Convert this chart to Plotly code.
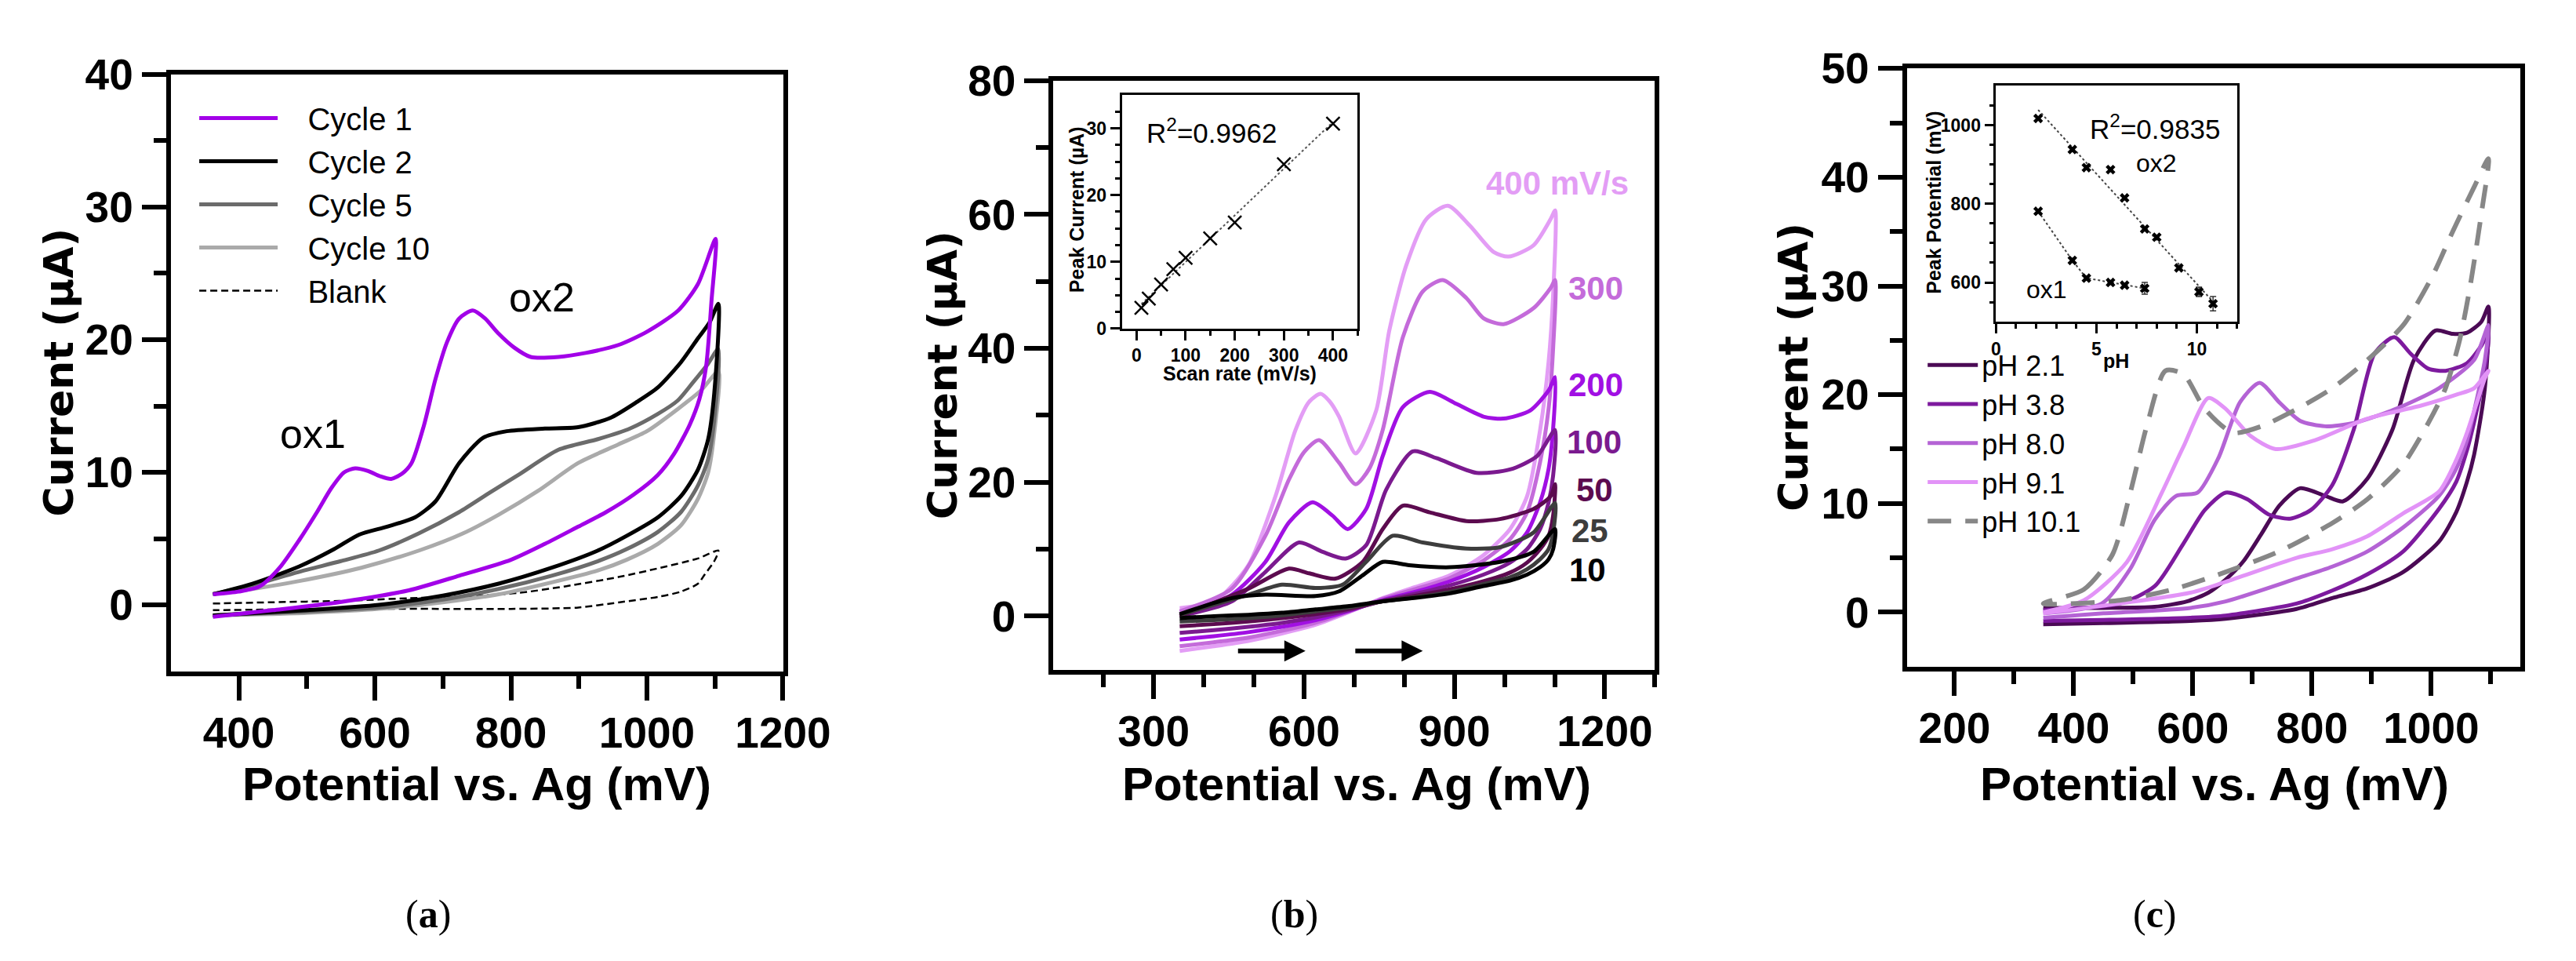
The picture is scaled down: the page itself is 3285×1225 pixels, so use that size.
import numpy as np
import plotly.graph_objects as go

W, H = 3285, 1225

# ---------------- panel (a): repeated cycles ----------------
a_c1_fwd_x = [362, 400, 431, 460, 489, 515, 536, 555, 571, 590, 608, 624, 640, 654, 672, 689, 706, 724, 744, 762, 781, 805, 829, 870, 910, 958, 1000, 1046, 1075, 1101]
a_c1_fwd_y = [0.8, 1.0, 1.4, 2.8, 4.9, 7.0, 8.8, 10.0, 10.3, 10.1, 9.7, 9.5, 9.9, 10.7, 13.5, 17.0, 19.8, 21.6, 22.2, 21.6, 20.5, 19.4, 18.7, 18.7, 19.0, 19.6, 20.6, 22.2, 24.2, 27.6]
a_c1_rev_x = [1101, 1095, 1087, 1077, 1063, 1040, 1016, 980, 940, 899, 850, 800, 724, 650, 547, 450, 362]
a_c1_rev_y = [27.6, 23.0, 18.0, 15.5, 13.6, 11.4, 9.8, 8.3, 7.0, 5.9, 4.6, 3.4, 2.2, 1.1, 0.2, -0.4, -0.9]

a_c2_fwd_x = [362, 420, 489, 540, 577, 618, 659, 689, 724, 759, 794, 850, 899, 946, 985, 1016, 1050, 1075, 1092, 1105]
a_c2_fwd_y = [0.8, 1.6, 2.9, 4.2, 5.3, 5.9, 6.6, 7.8, 10.7, 12.6, 13.1, 13.3, 13.4, 14.1, 15.3, 16.4, 18.3, 20.1, 21.3, 22.7]
a_c5_fwd_x = [362, 420, 489, 550, 606, 665, 724, 770, 811, 870, 928, 975, 1016, 1045, 1068, 1090, 1105]
a_c5_fwd_y = [0.8, 1.5, 2.5, 3.3, 4.1, 5.4, 7.0, 8.5, 9.8, 11.7, 12.5, 13.3, 14.4, 15.4, 16.8, 18.2, 19.3]
a_c10_fwd_x = [362, 420, 489, 580, 665, 730, 782, 840, 899, 958, 1000, 1046, 1080, 1105]
a_c10_fwd_y = [0.8, 1.2, 1.8, 2.8, 4.1, 5.4, 6.8, 8.6, 10.7, 12.1, 13.1, 14.8, 16.2, 17.6]

a_rev_x = [1105, 1099, 1090, 1075, 1050, 1016, 970, 928, 860, 782, 700, 606, 500, 362]
a_c2_rev_y = [22.7, 16.0, 12.5, 10.2, 8.2, 6.6, 5.2, 4.1, 2.8, 1.6, 0.7, 0.0, -0.4, -0.8]
a_c5_rev_y = [19.3, 14.0, 11.0, 9.0, 7.0, 5.5, 4.2, 3.3, 2.2, 1.2, 0.4, -0.2, -0.5, -0.8]
a_c10_rev_y = [17.6, 13.0, 10.0, 8.0, 6.0, 4.6, 3.4, 2.6, 1.7, 0.8, 0.2, -0.3, -0.6, -0.8]

a_blank_fwd_x = [362, 450, 547, 650, 750, 811, 880, 958, 1020, 1075, 1105]
a_blank_fwd_y = [0.1, 0.2, 0.3, 0.5, 0.7, 0.9, 1.4, 2.1, 2.8, 3.5, 4.1]
a_blank_rev_x = [1105, 1099, 1085, 1075, 1050, 1016, 960, 899, 800, 700, 550, 362]
a_blank_rev_y = [4.1, 3.3, 2.3, 1.6, 1.0, 0.6, 0.2, -0.2, -0.3, -0.3, -0.3, -0.4]

# ---------------- panel (b): scan rates ----------------
b_rev_x = [1101, 1097, 1088, 1071, 1045, 1011, 958, 891, 820, 757, 690, 623, 556, 489, 420, 352]

b_400_fwd_x = [352, 422, 489, 543, 583, 610, 633, 652, 670, 703, 744, 770, 804, 844, 887, 931, 978, 1008, 1058, 1092, 1101]
b_400_fwd_y = [1.2, 2.2, 7.6, 17.9, 27.8, 32.0, 33.2, 32.0, 29.8, 24.3, 30.7, 42.6, 52.4, 59.3, 61.3, 58.3, 54.4, 53.7, 55.4, 59.3, 60.6]
b_400_rev_y = [60.6, 48.0, 38.0, 27.8, 17.9, 13.0, 9.1, 6.1, 4.3, 2.7, 0.6, -1.3, -2.6, -3.7, -4.5, -5.2]

b_300_fwd_x = [352, 456, 523, 570, 600, 630, 670, 703, 730, 757, 797, 837, 877, 924, 958, 998, 1058, 1092, 1101]
b_300_fwd_y = [0.7, 4.1, 12.0, 20.4, 24.5, 26.3, 22.9, 19.7, 22.0, 27.8, 41.6, 48.5, 50.2, 47.5, 44.5, 43.6, 46.0, 49.0, 50.2]
b_300_rev_y = [50.2, 40.0, 31.0, 23.0, 15.5, 11.5, 8.3, 5.7, 4.0, 2.6, 0.7, -1.0, -2.2, -3.2, -3.9, -4.5]

b_200_fwd_x = [352, 456, 523, 570, 617, 657, 687, 724, 757, 797, 851, 904, 958, 998, 1051, 1088, 1101]
b_200_fwd_y = [0.2, 3.2, 8.1, 14.0, 17.0, 15.0, 13.0, 16.0, 23.9, 31.2, 33.5, 31.7, 29.8, 29.5, 30.7, 33.7, 35.7]
b_200_rev_y = [35.7, 28.0, 22.0, 17.0, 12.5, 9.7, 7.3, 5.2, 3.6, 2.4, 0.8, -0.6, -1.6, -2.4, -3.0, -3.5]

b_100_fwd_x = [352, 456, 523, 590, 637, 683, 724, 764, 817, 864, 944, 1011, 1065, 1101]
b_100_fwd_y = [0.0, 2.2, 6.6, 11.0, 9.6, 8.6, 10.6, 18.9, 24.6, 23.6, 21.4, 21.9, 23.9, 27.8]
b_100_rev_y = [27.8, 21.0, 17.0, 13.0, 10.0, 8.0, 6.2, 4.6, 3.3, 2.3, 0.9, -0.2, -1.0, -1.6, -2.1, -2.5]

b_50_fwd_x = [352, 489, 570, 610, 663, 717, 757, 797, 851, 924, 991, 1058, 1092, 1101]
b_50_fwd_y = [0.0, 4.1, 7.1, 6.4, 5.6, 8.1, 13.0, 16.5, 15.5, 14.2, 14.5, 16.0, 17.9, 19.7]
b_50_rev_y = [19.7, 15.0, 12.0, 10.0, 8.0, 6.5, 5.2, 4.0, 3.0, 2.2, 1.1, 0.3, -0.3, -0.8, -1.2, -1.5]

b_25_fwd_x = [352, 489, 556, 623, 677, 724, 777, 837, 924, 991, 1058, 1101]
b_25_fwd_y = [0.2, 3.2, 4.7, 4.2, 4.7, 8.1, 12.0, 11.0, 10.1, 10.3, 12.5, 16.9]
b_25_rev_y = [16.9, 12.5, 10.0, 8.5, 7.0, 5.8, 4.8, 3.6, 2.8, 2.2, 1.3, 0.7, 0.1, -0.3, -0.6, -0.8]

b_10_fwd_x = [352, 456, 523, 623, 670, 717, 757, 810, 891, 991, 1058, 1101]
b_10_fwd_y = [0.3, 2.7, 3.2, 3.0, 3.7, 6.1, 8.1, 7.6, 7.3, 8.1, 9.6, 13.0]
b_10_rev_y = [13.0, 10.0, 8.5, 7.3, 6.2, 5.3, 4.5, 3.4, 2.7, 2.2, 1.5, 1.0, 0.5, 0.2, 0.0, -0.3]

# inset (b): peak current vs scan rate
scan_rate = [10, 25, 50, 75, 100, 150, 200, 300, 400]
peak_current = [3.1, 4.5, 6.6, 8.9, 10.6, 13.5, 15.9, 24.6, 30.7]

# ---------------- panel (c): pH ----------------
c_rev_x = [1096, 1090, 1072, 1060, 1042, 1013, 953, 893, 834, 774, 655, 596, 450, 349]

c_21_fwd_x = [349, 450, 536, 590, 626, 655, 685, 715, 745, 780, 822, 852, 893, 935, 971, 1007, 1036, 1060, 1084, 1096]
c_21_fwd_y = [0.4, 0.4, 0.5, 1.0, 1.8, 3.0, 4.7, 7.2, 9.8, 11.4, 10.7, 10.2, 12.3, 16.8, 23.2, 25.9, 25.6, 25.7, 26.7, 28.1]
c_21_rev_y = [28.1, 20.6, 14.5, 12.0, 9.2, 6.5, 3.7, 2.2, 1.3, 0.3, -0.6, -0.8, -1.0, -1.1]

c_38_fwd_x = [349, 477, 536, 584, 620, 655, 691, 727, 763, 798, 834, 870, 905, 938, 965, 995, 1024, 1060, 1084, 1096]
c_38_fwd_y = [0.2, 0.8, 2.4, 6.3, 9.4, 11.0, 10.4, 9.0, 8.6, 9.4, 11.7, 16.8, 23.8, 25.3, 23.8, 22.4, 22.2, 22.9, 24.5, 25.7]
c_38_rev_y = [25.7, 22.2, 17.5, 14.9, 12.0, 9.5, 5.6, 3.5, 2.0, 0.8, -0.3, -0.5, -0.7, -0.8]

c_80_fwd_x = [349, 447, 495, 536, 572, 608, 643, 679, 712, 745, 780, 822, 870, 941, 1013, 1072, 1096]
c_80_fwd_y = [-0.1, 0.8, 4.0, 8.5, 10.7, 11.0, 14.2, 19.3, 21.1, 19.3, 17.6, 17.1, 17.4, 18.7, 20.6, 23.2, 26.4]
c_80_rev_y = [26.4, 23.2, 18.5, 15.8, 13.2, 10.7, 7.8, 5.6, 4.2, 3.1, 1.0, 0.4, -0.1, -0.5]

c_91_fwd_x = [349, 417, 489, 548, 584, 626, 655, 697, 739, 804, 893, 983, 1042, 1072, 1096]
c_91_fwd_y = [0.0, 1.1, 4.6, 11.0, 15.2, 19.7, 18.7, 16.2, 15.0, 15.8, 17.8, 19.0, 20.0, 20.6, 22.2]
c_91_rev_y = [22.2, 21.5, 18.5, 16.5, 14.0, 11.1, 9.1, 7.0, 5.8, 5.0, 2.8, 1.8, 0.6, -0.1]

c_101_fwd_x = [349, 417, 465, 495, 524, 554, 584, 620, 667, 715, 775, 834, 893, 953, 1001, 1036, 1072, 1096]
c_101_fwd_y = [0.8, 2.1, 5.3, 11.0, 17.4, 22.2, 21.9, 18.7, 16.5, 17.1, 18.7, 20.6, 23.2, 26.4, 30.8, 35.0, 39.1, 41.7]
c_101_rev_x = [1096, 1084, 1066, 1048, 1024, 995, 953, 893, 834, 745, 655, 566, 477, 349]
c_101_rev_y = [41.7, 36.6, 30.2, 25.1, 20.6, 17.4, 13.6, 10.4, 8.2, 5.6, 3.7, 2.1, 1.1, 0.8]

# inset (c): peak potential vs pH
ph_ox2 = [2.1, 3.8, 4.5, 5.7, 6.4, 7.4, 8.0, 9.1, 10.1, 10.8]
pot_ox2 = [1017, 938, 892, 887, 815, 736, 715, 637, 576, 546]
err_ox2 = [4, 5, 5, 5, 5, 5, 5, 5, 12, 18]
ph_ox1 = [2.1, 3.8, 4.5, 5.7, 6.4, 7.4]
pot_ox1 = [781, 656, 611, 600, 593, 585]
err_ox1 = [4, 5, 5, 5, 5, 15]

# tick values
a_xticks = [400, 600, 800, 1000, 1200]
a_xminor = [500, 700, 900, 1100]
a_yticks = [0, 10, 20, 30, 40]
a_yminor = [5, 15, 25, 35]
b_xticks = [300, 600, 900, 1200]
b_xminor = [200, 400, 500, 700, 800, 1000, 1100, 1300]
b_yticks = [0, 20, 40, 60, 80]
b_yminor = [10, 30, 50, 70]
c_xticks = [200, 400, 600, 800, 1000]
c_xminor = [300, 500, 700, 900, 1100]
c_yticks = [0, 10, 20, 30, 40, 50]
c_yminor = [5, 15, 25, 35, 45]
ib_xticks = [0, 100, 200, 300, 400]
ib_xminor = [50, 150, 250, 350, 450]
ib_yticks = [0, 10, 20, 30]
ib_yminor = [2.5, 5, 7.5, 12.5, 15, 17.5, 22.5, 25, 27.5, 32.5]
ic_xticks = [0, 5, 10]
ic_xminor = [1, 2, 3, 4, 6, 7, 8, 9, 11, 12]
ic_yticks = [600, 800, 1000]
ic_yminor = [550, 650, 700, 750, 850, 900, 950, 1050]

SANS = 'Liberation Sans, Arial, sans-serif'
NB = '\u00a0'


def px(x):
    return x / W


def py(y):
    return 1 - y / H


def main_axis(rng, ticks, minor, domain, anchor, standoff=0):
    return dict(
        range=rng, domain=domain, anchor=anchor,
        showline=True, linewidth=6, linecolor='black', mirror=True,
        showgrid=False, zeroline=False,
        tickmode='array', tickvals=ticks, ticks='outside', ticklen=31, tickwidth=6, tickcolor='black',
        ticklabelstandoff=standoff,
        minor=dict(tickmode='array', tickvals=minor, ticks='outside', ticklen=16, tickwidth=6, tickcolor='black'),
        tickfont=dict(family=SANS, size=55, color='black', weight='bold'),
    )


def inset_axis(rng, ticks, minor, domain, anchor):
    return dict(
        range=rng, domain=domain, anchor=anchor,
        showline=True, linewidth=2.5, linecolor='black', mirror=True,
        showgrid=False, zeroline=False,
        tickmode='array', tickvals=ticks, ticks='outside', ticklen=12, tickwidth=2.5, tickcolor='black',
        minor=dict(tickmode='array', tickvals=minor, ticks='outside', ticklen=6, tickwidth=2.5, tickcolor='black'),
        tickfont=dict(family=SANS, size=23, color='black', weight='bold'),
    )


def loop(fx, fy, rx, ry):
    return list(fx) + list(rx[1:]), list(fy) + list(ry[1:])


fig = go.Figure()

# panel (a)
a_traces = [
    ('Cycle 1', a_c1_fwd_x, a_c1_fwd_y, a_c1_rev_x, a_c1_rev_y, '#A200E8', 5, 'solid'),
    ('Cycle 2', a_c2_fwd_x, a_c2_fwd_y, a_rev_x, a_c2_rev_y, '#000000', 5, 'solid'),
    ('Cycle 5', a_c5_fwd_x, a_c5_fwd_y, a_rev_x, a_c5_rev_y, '#6B6B6B', 5, 'solid'),
    ('Cycle 10', a_c10_fwd_x, a_c10_fwd_y, a_rev_x, a_c10_rev_y, '#AAAAAA', 5, 'solid'),
    ('Blank', a_blank_fwd_x, a_blank_fwd_y, a_blank_rev_x, a_blank_rev_y, '#000000', 2.5, '9px,5px'),
]
a_names = [t[0] for t in a_traces]
for name, fx, fy, rx, ry, col, lw, dash in reversed(a_traces):
    x, y = loop(fx, fy, rx, ry)
    fig.add_trace(go.Scatter(x=x, y=y, mode='lines', name=NB * 3 + name, legend='legend',
                             legendrank=a_names.index(name),
                             line=dict(color=col, width=lw, dash=dash, shape='spline', smoothing=0.7),
                             xaxis='x', yaxis='y'))

# panel (b)
b_traces = [
    ('10', b_10_fwd_x, b_10_fwd_y, b_10_rev_y, '#000000'),
    ('25', b_25_fwd_x, b_25_fwd_y, b_25_rev_y, '#3D3D3D'),
    ('50', b_50_fwd_x, b_50_fwd_y, b_50_rev_y, '#5C0B4F'),
    ('100', b_100_fwd_x, b_100_fwd_y, b_100_rev_y, '#7B1A8F'),
    ('200', b_200_fwd_x, b_200_fwd_y, b_200_rev_y, '#A110E3'),
    ('300', b_300_fwd_x, b_300_fwd_y, b_300_rev_y, '#C46BDA'),
    ('400 mV/s', b_400_fwd_x, b_400_fwd_y, b_400_rev_y, '#E39DF5'),
]
for name, fx, fy, ry, col in reversed(b_traces):
    x, y = loop(fx, fy, b_rev_x, ry)
    fig.add_trace(go.Scatter(x=x, y=y, mode='lines', name=name, showlegend=False,
                             line=dict(color=col, width=5, shape='spline', smoothing=0.7),
                             xaxis='x2', yaxis='y2'))

# inset (b)
fit_b = np.polyfit(scan_rate, peak_current, 1)
fit_bx = [scan_rate[0], scan_rate[-1]]
fig.add_trace(go.Scatter(x=fit_bx, y=np.polyval(fit_b, fit_bx), mode='lines', showlegend=False,
                         line=dict(color='#555555', width=2, dash='dot'), xaxis='x4', yaxis='y4'))
fig.add_trace(go.Scatter(x=scan_rate, y=peak_current, mode='markers', showlegend=False,
                         marker=dict(symbol='x-thin', size=17, line=dict(color='black', width=2.5)),
                         xaxis='x4', yaxis='y4'))

# panel (c)
c_traces = [
    ('pH 2.1', c_21_fwd_x, c_21_fwd_y, c_rev_x, c_21_rev_y, '#4B0A55', 'solid'),
    ('pH 3.8', c_38_fwd_x, c_38_fwd_y, c_rev_x, c_38_rev_y, '#7D1A9E', 'solid'),
    ('pH 8.0', c_80_fwd_x, c_80_fwd_y, c_rev_x, c_80_rev_y, '#B463D5', 'solid'),
    ('pH 9.1', c_91_fwd_x, c_91_fwd_y, c_rev_x, c_91_rev_y, '#E293F7', 'solid'),
    ('pH 10.1', c_101_fwd_x, c_101_fwd_y, c_101_rev_x, c_101_rev_y, '#878787', '30px,18px'),
]
for i, (name, fx, fy, rx, ry, col, dash) in enumerate(c_traces):
    x, y = loop(fx, fy, rx, ry)
    fig.add_trace(go.Scatter(x=x, y=y, mode='lines', name=name, legend='legend2', legendrank=i,
                             line=dict(color=col, width=5 if dash == 'solid' else 6, dash=dash, shape='spline', smoothing=0.7),
                             xaxis='x3', yaxis='y3'))

# inset (c)
fit_c = np.polyfit(ph_ox2, pot_ox2, 1)
fit_cx = [ph_ox2[0], ph_ox2[-1]]
fig.add_trace(go.Scatter(x=fit_cx, y=np.polyval(fit_c, fit_cx), mode='lines', showlegend=False,
                         line=dict(color='#444444', width=2, dash='dot'), xaxis='x5', yaxis='y5'))
fig.add_trace(go.Scatter(x=ph_ox1, y=pot_ox1, mode='lines', showlegend=False,
                         line=dict(color='#444444', width=2, dash='dot'), xaxis='x5', yaxis='y5'))
for xs, ys, es in [(ph_ox2, pot_ox2, err_ox2), (ph_ox1, pot_ox1, err_ox1)]:
    fig.add_trace(go.Scatter(x=xs, y=ys, mode='markers', showlegend=False,
                             error_y=dict(type='data', array=es, color='#333333', thickness=1.5, width=4),
                             marker=dict(symbol='x', size=11, color='black'),
                             xaxis='x5', yaxis='y5'))

# layout / axes
dom_a = [px(208), px(1005)]
dom_b = [px(1357), px(2140)]
dom_c = [px(2468), px(3267)]
fig.update_layout(
    width=W, height=H, margin=dict(l=0, r=0, t=0, b=0),
    paper_bgcolor='white', plot_bgcolor='white',
    xaxis=main_axis([300, 1200], a_xticks, a_xminor, dom_a, 'y', -6),
    yaxis=main_axis([-5, 40], a_yticks, a_yminor, [py(847), py(58)], 'x'),
    xaxis2=main_axis([100, 1300], b_xticks, b_xminor, dom_b, 'y2', -6),
    yaxis2=main_axis([-8, 80], b_yticks, b_yminor, [py(845), py(66)], 'x2'),
    xaxis3=main_axis([120, 1150], c_xticks, c_xminor, dom_c, 'y3', -6),
    yaxis3=main_axis([-5, 50], c_yticks, c_yminor, [py(841), py(50)], 'x3'),
    xaxis4=inset_axis([-30, 450], ib_xticks, ib_xminor, [px(1446), px(1753)], 'y4'),
    yaxis4=inset_axis([0, 35], ib_yticks, ib_yminor, [py(394), py(85)], 'x4'),
    xaxis5=inset_axis([0, 12], ic_xticks, ic_xminor, [px(2584), px(2898)], 'y5'),
    yaxis5=inset_axis([500, 1100], ic_yticks, ic_yminor, [py(385), py(73)], 'x5'),
    legend=dict(x=px(240), y=py(82), xanchor='left', yanchor='top', bgcolor='rgba(0,0,0,0)',
                font=dict(family=SANS, size=40, color='black'), itemwidth=100, traceorder='normal'),
    legend2=dict(x=px(2490), y=py(411), xanchor='left', yanchor='top', bgcolor='rgba(0,0,0,0)',
                 font=dict(family=SANS, size=36, color='black'), itemwidth=64, traceorder='normal'),
)

ann = []


def text(x, y, s, size, xref='paper', yref='paper', bold=False, color='black', angle=0, family=SANS):
    ann.append(dict(x=x, y=y, xref=xref, yref=yref, text=s, showarrow=False, textangle=angle,
                    xanchor='center', yanchor='middle',
                    font=dict(family=family, size=size, color=color, weight='bold' if bold else 'normal')))


# axis titles
for cx in [606, 1752, 2868]:
    text(px(cx), py(996), 'Potential vs. Ag (mV)', 60, bold=True)
for cx, cy in [(62, 452), (1212, 455), (2320, 445)]:
    text(px(cx), py(cy), 'Current (µA)', 52, bold=True, angle=-90, family='DejaVu Sans, sans-serif')
# panel letters
for cx, s in [(543, 'a'), (1671, 'b'), (2791, 'c')]:
    text(px(cx), py(1168), '(<b>%s</b>)' % s, 50, family='Liberation Serif, serif')

# panel (a) peak labels
text(509, 12.9, 'ox1', 52, 'x', 'y')
text(846, 23.2, 'ox2', 52, 'x', 'y')

# panel (b) scan rate labels
for lx, ly, s, col in [(1105, 64.7, '400 mV/s', '#E39DF5'), (1182, 49.0, '300', '#C46BDA'),
                       (1182, 34.5, '200', '#A110E3'), (1179, 26.0, '100', '#7B1A8F'),
                       (1179, 18.8, '50', '#5C0B4F'), (1171, 12.8, '25', '#3D3D3D'),
                       (1165, 6.9, '10', '#000000')]:
    text(lx, ly, s, 42, 'x2', 'y2', bold=True, color=col)
for x0, x1 in [(466, 603), (700, 837)]:
    ann.append(dict(x=x1, y=-5.2, ax=x0, ay=-5.2, xref='x2', yref='y2', axref='x2', ayref='y2',
                    showarrow=True, arrowhead=2, arrowsize=0.9, arrowwidth=6, arrowcolor='black', text=''))

# inset texts
text(152, 29.6, 'R<sup>2</sup>=0.9962', 35, 'x4', 'y4')
text(px(1388), py(237), 'Peak Current (µA)', 25, bold=True, angle=-90)
text(px(1600), py(453), 'Scan rate (mV/s)', 25, bold=True)
text(7.9, 996, 'R<sup>2</sup>=0.9835', 35, 'x5', 'y5')
text(7.97, 903, 'ox2', 32, 'x5', 'y5')
text(2.53, 582, 'ox1', 32, 'x5', 'y5')
text(px(2503), py(227), 'Peak Potential (mV)', 25, bold=True, angle=-90)
text(px(2740), py(437), 'pH', 25, bold=True)

fig.update_layout(annotations=ann)
fig.write_html("out.html")
